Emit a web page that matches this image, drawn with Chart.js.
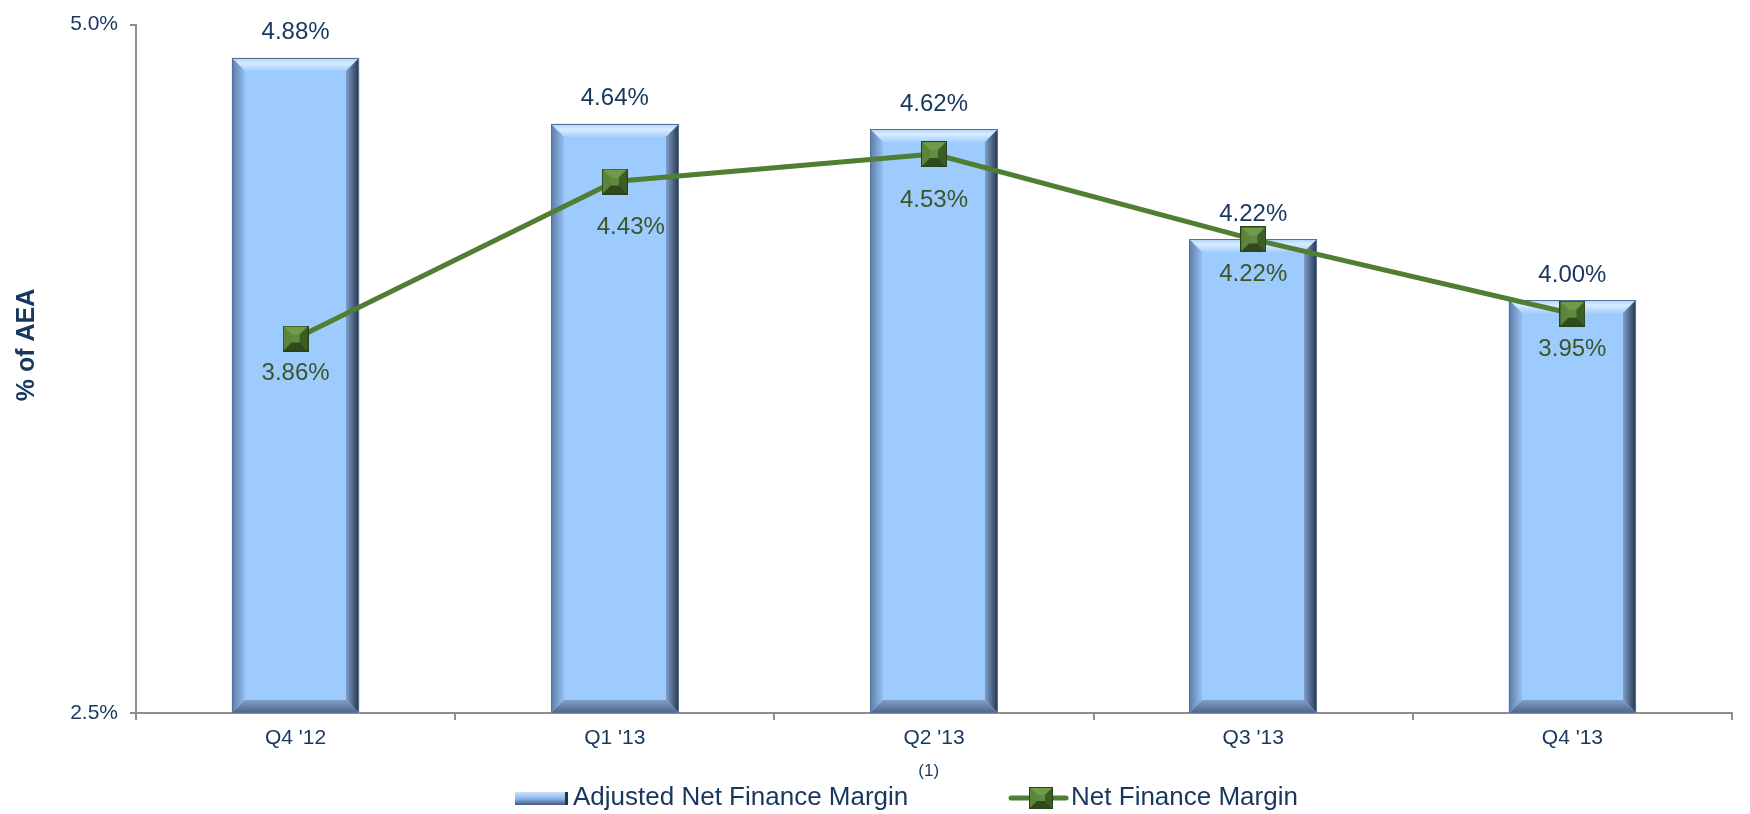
<!DOCTYPE html>
<html>
<head>
<meta charset="utf-8">
<script src="https://cdn.jsdelivr.net/npm/chart.js@4/dist/chart.umd.min.js"></script>
<style>
    body { margin: 0; background: #fff; }
    #wrap { width: 1750px; height: 814px; position: relative; }
</style>
</head>
<body>
<div id="wrap"><canvas id="marginChart"></canvas></div>
<script>
// 数据
const quarters = ["Q4 '12", "Q1 '13", "Q2 '13", "Q3 '13", "Q4 '13"];
const adjustedMargin = [4.88, 4.64, 4.62, 4.22, 4.00];
const netMargin = [3.86, 4.43, 4.53, 4.22, 3.95];
const yTicks = [2.5, 5.0];

// 折线标签的手动微调 (px)，原图里有几个是手动挪过的
const lineLabelNudge = [[0, 35], [16, 46], [0, 46], [0, 35], [0, 36]];

const NAVY = '#17375E';
const GREEN = '#507E32';
const LABEL_GREEN = '#3A5528';
const AXIS = '#8E8E8E';
const FONT = '"Liberation Sans", Arial, sans-serif';

// 方块标记：带斜面的深绿色方块
function makeMarker(w, h) {
    const c = document.createElement('canvas');
    c.width = w; c.height = h;
    const g = c.getContext('2d');
    const b = Math.round(Math.min(w, h) * 0.36);
    const poly = (pts, color) => {
        g.beginPath();
        g.moveTo(pts[0][0], pts[0][1]);
        pts.slice(1).forEach(p => g.lineTo(p[0], p[1]));
        g.closePath();
        g.fillStyle = color;
        g.fill();
    };
    poly([[0, 0], [w, 0], [w, h], [0, h]], '#4E7A32');
    poly([[0, 0], [w, 0], [w - b, b], [b, b]], '#6F9B4B');
    poly([[0, 0], [b, b], [b, h - b], [0, h]], '#5A853A');
    poly([[w, 0], [w, h], [w - b, h - b], [w - b, b]], '#3C5E25');
    poly([[0, h], [w, h], [w - b, h - b], [b, h - b]], '#30491D');
    poly([[b, b], [w - b, b], [w - b, h - b], [b, h - b]], '#5F8C40');
    g.strokeStyle = '#2A4017';
    g.lineWidth = 1;
    g.strokeRect(0.5, 0.5, w - 1, h - 1);
    return c;
}

const bigMarker = makeMarker(26, 26);
const smallMarker = makeMarker(24, 22);

// 柱子的斜面效果
function drawBevel(ctx, x0, x1, y0, y1) {
    const b = 13;
    const poly = (pts, fill) => {
        ctx.beginPath();
        ctx.moveTo(pts[0][0], pts[0][1]);
        pts.slice(1).forEach(p => ctx.lineTo(p[0], p[1]));
        ctx.closePath();
        ctx.fillStyle = fill;
        ctx.fill();
    };
    let gr = ctx.createLinearGradient(0, y0, 0, y0 + b);
    gr.addColorStop(0, '#A9D2FF');
    gr.addColorStop(0.4, '#D8ECFF');
    gr.addColorStop(1, '#A6D0FD');
    poly([[x0, y0], [x1, y0], [x1 - b, y0 + b], [x0 + b, y0 + b]], gr);

    gr = ctx.createLinearGradient(x0, 0, x0 + b, 0);
    gr.addColorStop(0, '#5D7CA6');
    gr.addColorStop(1, '#93C0F2');
    poly([[x0, y0], [x0 + b, y0 + b], [x0 + b, y1 - b], [x0, y1]], gr);

    gr = ctx.createLinearGradient(x1 - b, 0, x1, 0);
    gr.addColorStop(0, '#7D9FCB');
    gr.addColorStop(1, '#26344A');
    poly([[x1, y0], [x1, y1], [x1 - b, y1 - b], [x1 - b, y0 + b]], gr);

    gr = ctx.createLinearGradient(0, y1 - b, 0, y1);
    gr.addColorStop(0, '#7F9FC8');
    gr.addColorStop(1, '#4E6585');
    poly([[x0, y1], [x1, y1], [x1 - b, y1 - b], [x0 + b, y1 - b]], gr);

    ctx.strokeStyle = '#56709A';
    ctx.lineWidth = 1;
    ctx.strokeRect(x0 + 0.5, y0 + 0.5, x1 - x0 - 1, y1 - y0 - 1);
}

const decorPlugin = {
    id: 'decor',
    afterDatasetDraw(chart, args) {
        if (args.index !== 0) return;
        const ctx = chart.ctx;
        const bottom = chart.chartArea.bottom;
        ctx.save();
        chart.getDatasetMeta(0).data.forEach(bar => {
            const x0 = Math.round(bar.x - bar.width / 2);
            const x1 = Math.round(bar.x + bar.width / 2);
            drawBevel(ctx, x0, x1, Math.round(bar.y), Math.round(Math.min(bar.base, bottom)));
        });
        ctx.restore();
    },
    afterDraw(chart) {
        const ctx = chart.ctx;
        ctx.save();

        // 数据标签
        ctx.font = '24px ' + FONT;
        ctx.textAlign = 'center';
        ctx.textBaseline = 'middle';
        ctx.fillStyle = NAVY;
        chart.getDatasetMeta(0).data.forEach((bar, i) => {
            ctx.fillText(adjustedMargin[i].toFixed(2) + '%', bar.x, bar.y - 25);
        });
        ctx.fillStyle = LABEL_GREEN;
        chart.getDatasetMeta(1).data.forEach((pt, i) => {
            const n = lineLabelNudge[i];
            ctx.fillText(netMargin[i].toFixed(2) + '%', pt.x + n[0], pt.y + n[1]);
        });

        // Y 轴标题
        ctx.save();
        ctx.translate(27, 345);
        ctx.rotate(-Math.PI / 2);
        ctx.font = 'bold 25px ' + FONT;
        ctx.fillStyle = NAVY;
        ctx.fillText('% of AEA', 0, 0);
        ctx.restore();

        // 图例 (手写，带上标)
        const ly = 798;
        let x = 515;
        let gr = ctx.createLinearGradient(0, ly - 6, 0, ly + 7);
        gr.addColorStop(0, '#C9E3FF');
        gr.addColorStop(0.5, '#8DB9EC');
        gr.addColorStop(1, '#3F587C');
        ctx.fillStyle = gr;
        ctx.fillRect(x, ly - 6, 53, 13);
        ctx.fillStyle = '#26344A';
        ctx.fillRect(x + 50, ly - 6, 3, 13);
        x += 58;

        ctx.font = '26px ' + FONT;
        ctx.textAlign = 'left';
        ctx.fillStyle = NAVY;
        const t1 = chart.data.datasets[0].label;
        ctx.fillText(t1, x, ly);
        x += ctx.measureText(t1).width + 10;
        ctx.font = '17px ' + FONT;
        ctx.fillText('(1)', x, ly - 27);
        x += ctx.measureText('(1)').width + 72;

        ctx.strokeStyle = GREEN;
        ctx.lineWidth = 5;
        ctx.lineCap = 'round';
        ctx.beginPath();
        ctx.moveTo(x, ly);
        ctx.lineTo(x + 55, ly);
        ctx.stroke();
        ctx.drawImage(smallMarker, Math.round(x + 18), Math.round(ly - 11));
        x += 60;
        ctx.font = '26px ' + FONT;
        ctx.fillStyle = NAVY;
        ctx.fillText(chart.data.datasets[1].label, x, ly);

        ctx.restore();
    }
};

const ctx = document.getElementById('marginChart').getContext('2d');
new Chart(ctx, {
    type: 'bar',
    data: {
        labels: quarters,
        datasets: [
            {
                type: 'bar',
                label: 'Adjusted Net Finance Margin',
                data: adjustedMargin,
                backgroundColor: '#9DCBFE',
                borderWidth: 0,
                categoryPercentage: 1,
                barPercentage: 0.4,
                order: 1
            },
            {
                type: 'line',
                label: 'Net Finance Margin',
                data: netMargin,
                borderColor: GREEN,
                borderWidth: 5,
                pointStyle: bigMarker,
                pointRadius: 13,
                pointHoverRadius: 13,
                tension: 0,
                fill: false,
                order: 0
            }
        ]
    },
    options: {
        responsive: true,
        maintainAspectRatio: false,
        animation: false,
        layout: { padding: { top: 17, right: 9, left: 0, bottom: 0 } },
        plugins: {
            legend: { display: false },
            tooltip: { enabled: false }
        },
        scales: {
            x: {
                offset: true,
                grid: {
                    offset: true,
                    drawOnChartArea: false,
                    drawTicks: true,
                    tickLength: 7,
                    color: AXIS,
                    lineWidth: 2
                },
                border: { color: AXIS, width: 2 },
                ticks: {
                    color: NAVY,
                    font: { family: FONT, size: 21 },
                    padding: 6,
                    maxRotation: 0
                },
                afterFit: scale => { scale.height = 101; }
            },
            y: {
                min: 2.5,
                max: 5.0,
                afterBuildTicks: scale => {
                    scale.ticks = yTicks.map(v => ({ value: v }));
                },
                grid: {
                    drawOnChartArea: false,
                    drawTicks: true,
                    tickLength: 6,
                    color: AXIS,
                    lineWidth: 2
                },
                border: { color: AXIS, width: 2 },
                ticks: {
                    color: NAVY,
                    font: { family: FONT, size: 21 },
                    padding: 12,
                    callback: v => Number(v).toFixed(1) + '%'
                },
                afterFit: scale => { scale.width = 136; }
            }
        }
    },
    plugins: [decorPlugin]
});
</script>
</body>
</html>
